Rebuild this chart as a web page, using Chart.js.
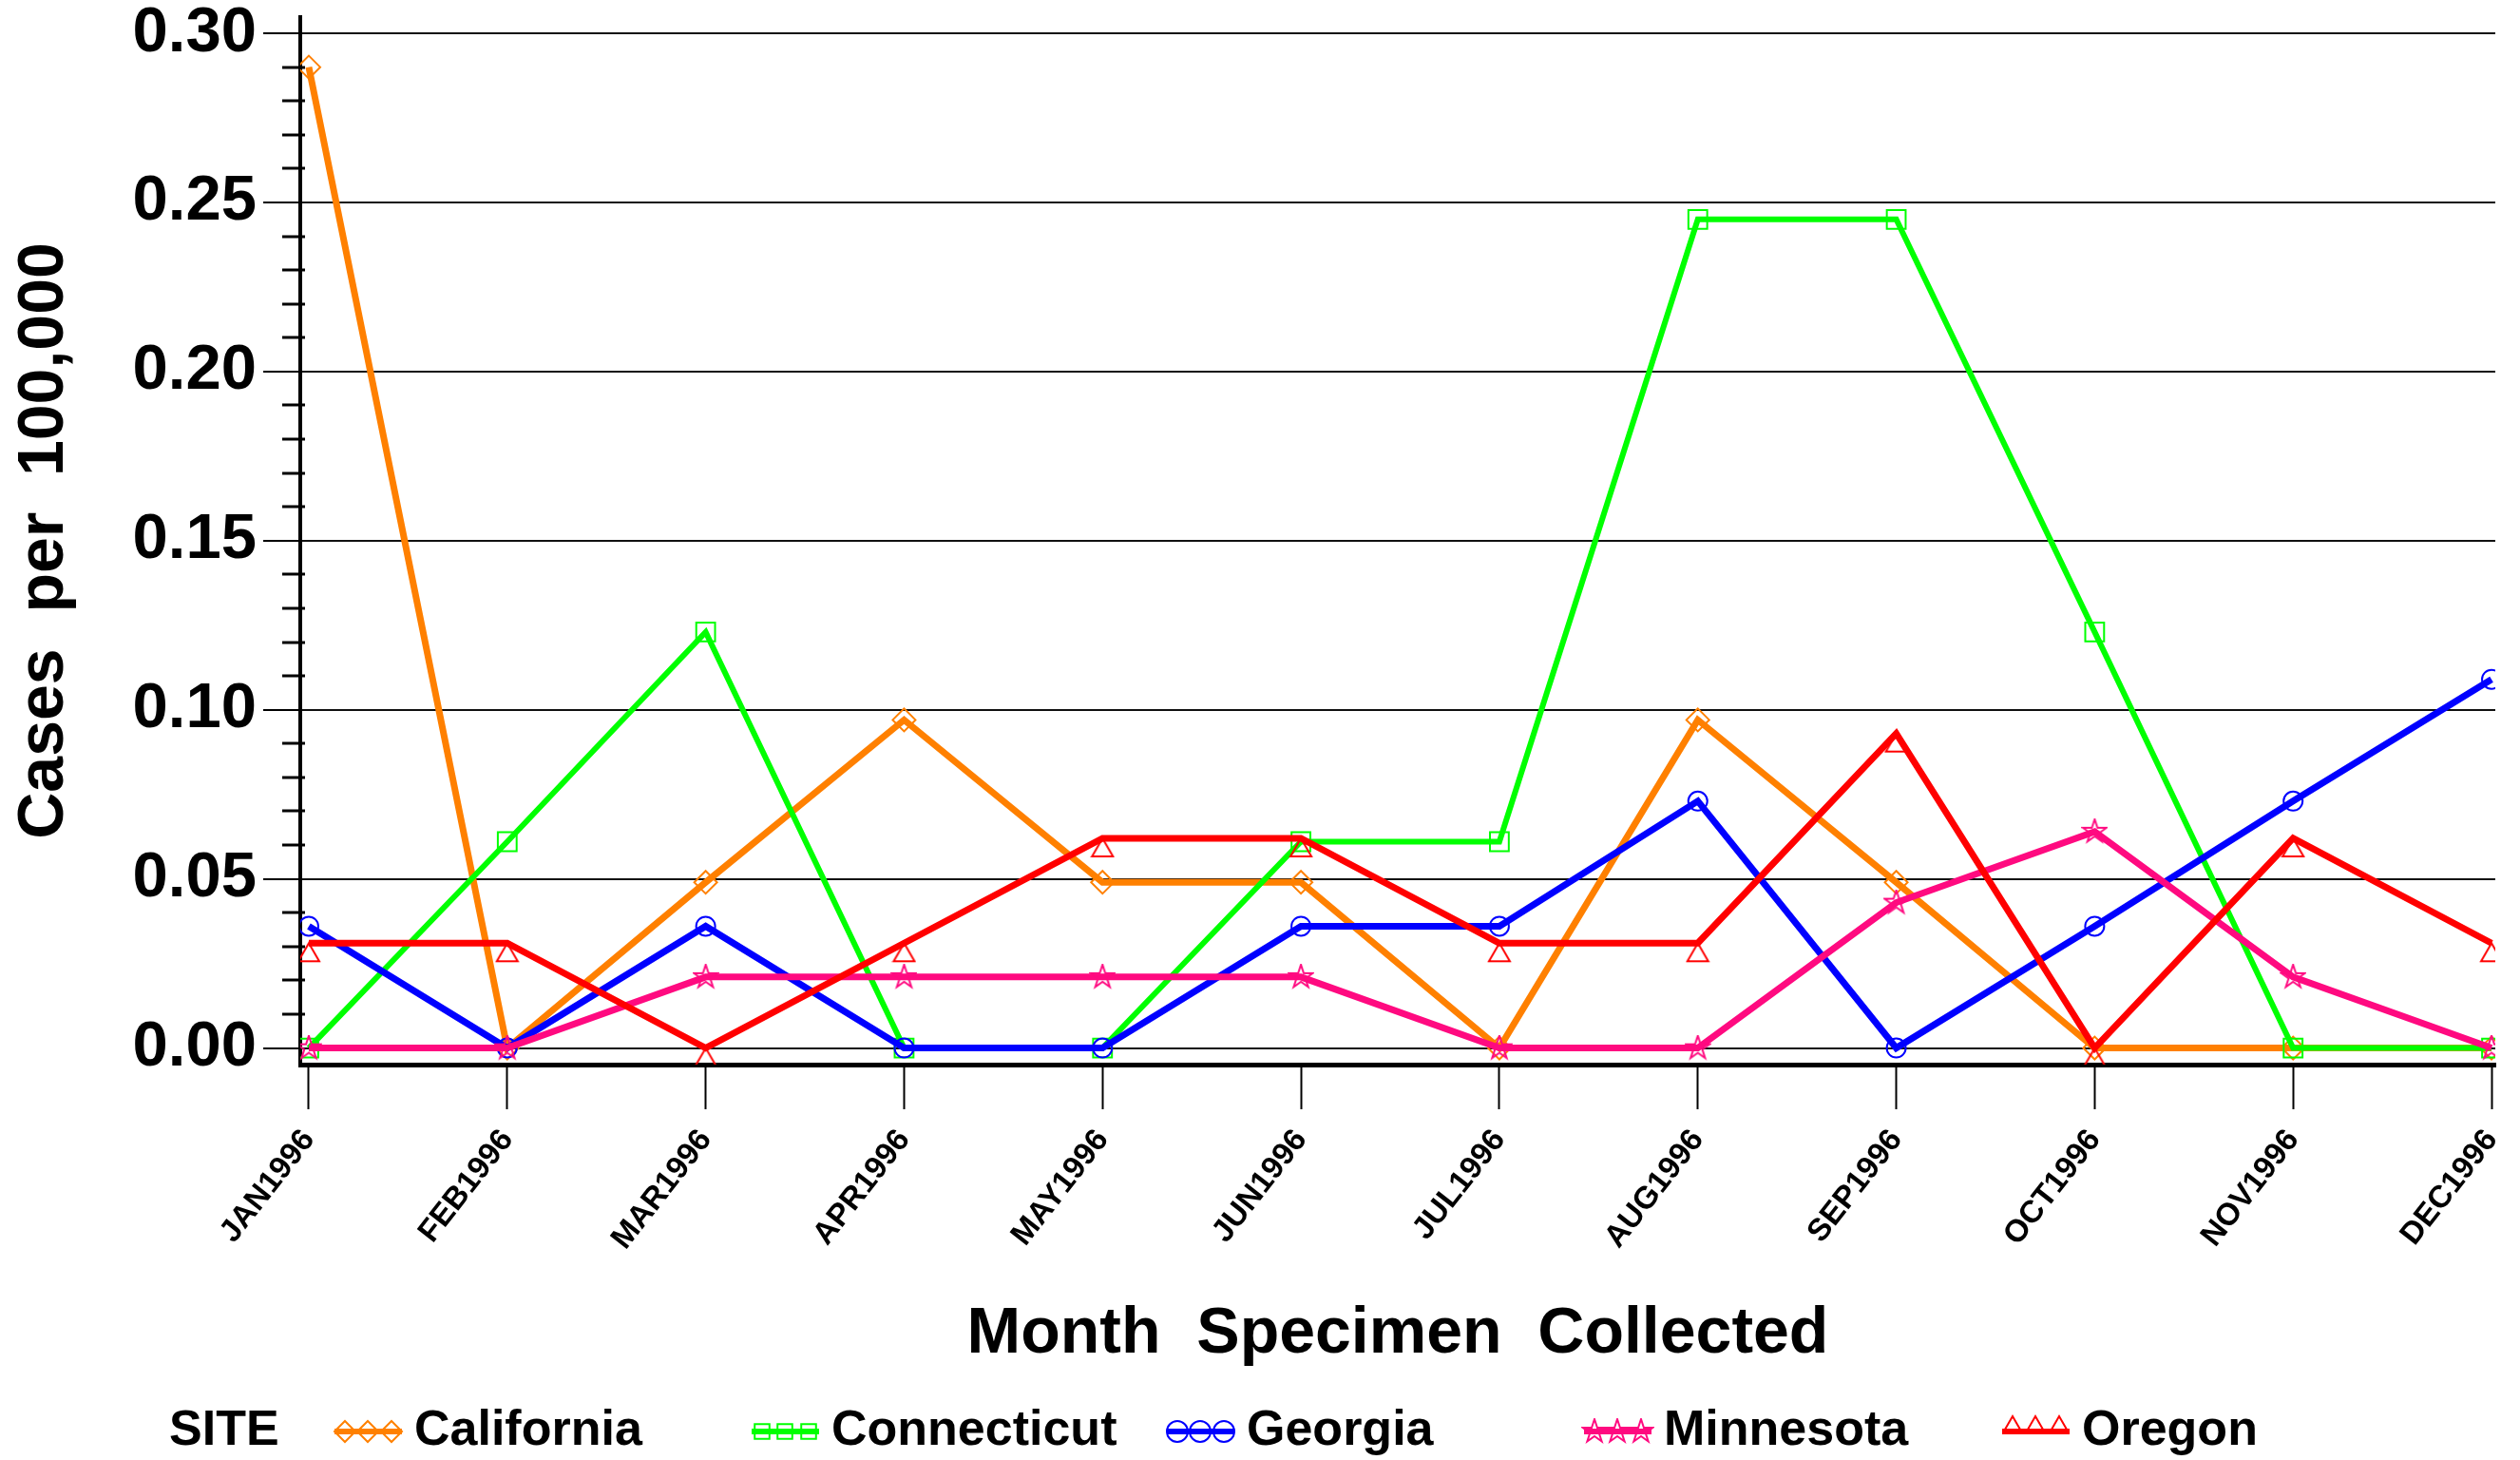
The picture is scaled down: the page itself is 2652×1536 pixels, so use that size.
<!DOCTYPE html>
<html>
<head>
<meta charset="utf-8">
<script src="https://cdn.jsdelivr.net/npm/chart.js@4.4.1/dist/chart.umd.min.js"></script>
<style>
    html, body { margin: 0; padding: 0; background: #fff; }
    canvas { display: block; }
</style>
</head>
<body>
<canvas id="siteChart" width="2652" height="1536"></canvas>
<script>
const months = ['JAN1996', 'FEB1996', 'MAR1996', 'APR1996', 'MAY1996', 'JUN1996',
                'JUL1996', 'AUG1996', 'SEP1996', 'OCT1996', 'NOV1996', 'DEC1996'];
const sites = ['California', 'Connecticut', 'Georgia', 'Minnesota', 'Oregon'];

const california  = [0.290, 0.000, 0.049, 0.097, 0.049, 0.049, 0.000, 0.097, 0.049, 0.000, 0.000, 0.000];
const connecticut = [0.000, 0.061, 0.123, 0.000, 0.000, 0.061, 0.061, 0.245, 0.245, 0.123, 0.000, 0.000];
const georgia     = [0.036, 0.000, 0.036, 0.000, 0.000, 0.036, 0.036, 0.073, 0.000, 0.036, 0.073, 0.109];
const minnesota   = [0.000, 0.000, 0.021, 0.021, 0.021, 0.021, 0.000, 0.000, 0.043, 0.064, 0.021, 0.000];
const oregon      = [0.031, 0.031, 0.000, 0.031, 0.062, 0.062, 0.031, 0.031, 0.093, 0.000, 0.062, 0.031];

const yTicks = [0, 0.05, 0.10, 0.15, 0.20, 0.25, 0.30];
const yTickLabels = ['0.00', '0.05', '0.10', '0.15', '0.20', '0.25', '0.30'];

const colors = ['#FF8000', '#00FF00', '#0000FF', '#FF0A80', '#FF0000'];
const lineWidths = [7, 6, 7, 7, 7];
const legendX = [352, 791, 1228, 1667, 2107];

const FONT = '"Liberation Sans", Arial, sans-serif';

// SAS-like hollow star (5 points) and a triangle hanging under its point
function starMarker(color) {
    const c = document.createElement('canvas');
    c.width = 28; c.height = 28;
    const g = c.getContext('2d');
    g.strokeStyle = color;
    g.lineWidth = 2;
    g.beginPath();
    for (let k = 0; k < 10; k++) {
        const r = k % 2 === 0 ? 13 : 5;
        const a = -Math.PI / 2 + k * Math.PI / 5;
        const px = 14 + r * Math.cos(a), py = 14 + r * Math.sin(a);
        if (k === 0) g.moveTo(px, py); else g.lineTo(px, py);
    }
    g.closePath();
    g.stroke();
    return c;
}

function triangleMarker(color) {
    const c = document.createElement('canvas');
    c.width = 26; c.height = 44;
    const g = c.getContext('2d');
    g.strokeStyle = color;
    g.lineWidth = 2;
    g.beginPath();
    g.moveTo(13, 22);
    g.lineTo(24, 41);
    g.lineTo(2, 41);
    g.closePath();
    g.stroke();
    return c;
}

const star = starMarker(colors[3]);
const markers = ['rectRot', 'rect', 'circle', star, triangleMarker(colors[4])];
const legendMarkers = ['rectRot', 'rect', 'circle', star, 'triangle'];
const markerSize = [12, 14, 10, 12, 12];

function toPoints(values) {
    return values.map((v, i) => ({ x: i, y: v }));
}

const seriesValues = [california, connecticut, georgia, minnesota, oregon];

const datasets = sites.map((name, i) => ({
    label: name,
    data: toPoints(seriesValues[i]),
    borderColor: colors[i],
    borderWidth: lineWidths[i],
    pointStyle: markers[i],
    pointRadius: markerSize[i],
    pointBorderWidth: 2,
    pointBorderColor: colors[i],
    pointBackgroundColor: 'rgba(0,0,0,0)',
    tension: 0,
    order: sites.length - i
}));

// minor ticks on the y axis + the SITE legend at the bottom
const extras = {
    id: 'extras',
    afterDraw(chart) {
        const ctx = chart.ctx;
        const yScale = chart.scales.y;
        const axisX = chart.chartArea.left;
        ctx.save();
        ctx.strokeStyle = '#000';
        ctx.lineWidth = 3;
        for (let k = 1; k < 30; k++) {
            if (k % 5 === 0) continue;
            const py = Math.round(yScale.getPixelForValue(k / 100));
            ctx.beginPath();
            ctx.moveTo(axisX - 19, py);
            ctx.lineTo(axisX + 5, py);
            ctx.stroke();
        }

        const ly = 1506;
        ctx.font = 'bold 52px ' + FONT;
        ctx.textBaseline = 'middle';
        ctx.textAlign = 'left';
        ctx.fillStyle = '#000';
        ctx.fillText('SITE', 178, ly);
        chart.data.datasets.forEach((ds, i) => {
            const x0 = legendX[i];
            ctx.strokeStyle = ds.borderColor;
            ctx.lineWidth = 6;
            ctx.beginPath();
            ctx.moveTo(x0, ly);
            ctx.lineTo(x0 + 71, ly);
            ctx.stroke();
            const style = legendMarkers[i];
            const dy = style === 'triangle' ? -5 : 0;
            [x0 + 11, x0 + 35, x0 + 60].forEach(mx => {
                ctx.strokeStyle = ds.borderColor;
                ctx.fillStyle = 'rgba(0,0,0,0)';
                ctx.lineWidth = 2;
                Chart.helpers.drawPoint(ctx, {
                    pointStyle: style,
                    radius: 11,
                    borderWidth: 2,
                    rotation: 0
                }, mx, ly + dy);
            });
            ctx.fillStyle = '#000';
            ctx.fillText(ds.label, x0 + 84, ly);
        });
        ctx.restore();
    }
};

new Chart(document.getElementById('siteChart'), {
    type: 'line',
    data: { datasets },
    options: {
        responsive: false,
        animation: false,
        devicePixelRatio: 1,
        layout: { padding: { top: 18, left: 0, right: 26, bottom: 80 } },
        plugins: {
            legend: { display: false },
            tooltip: { enabled: false }
        },
        scales: {
            x: {
                type: 'linear',
                min: -0.043,
                max: 11.019,
                afterBuildTicks: scale => {
                    scale.ticks = months.map((m, i) => ({ value: i }));
                },
                afterFit: scale => {
                    scale.height = 336;
                    scale.paddingLeft = 0;
                    scale.paddingRight = 0;
                },
                ticks: {
                    autoSkip: false,
                    minRotation: 52,
                    maxRotation: 52,
                    padding: 14,
                    color: '#000',
                    font: { family: FONT, size: 33, weight: 'bold' },
                    callback: value => months[value]
                },
                grid: {
                    drawOnChartArea: false,
                    drawTicks: true,
                    tickLength: 47,
                    tickWidth: 2,
                    tickColor: '#000'
                },
                border: { display: true, color: '#000', width: 5 },
                title: {
                    display: true,
                    text: 'Month  Specimen  Collected',
                    color: '#000',
                    font: { family: FONT, size: 68, weight: 'bold' },
                    padding: { top: 0, bottom: 11 }
                }
            },
            y: {
                min: -0.0049,
                max: 0.3048,
                afterBuildTicks: scale => {
                    scale.ticks = yTicks.map(v => ({ value: v }));
                },
                afterFit: scale => {
                    scale.width = 316;
                    scale.paddingTop = 0;
                    scale.paddingBottom = 0;
                },
                ticks: {
                    padding: 7,
                    color: '#000',
                    font: { family: FONT, size: 67, weight: 'bold' },
                    callback: (value, index) => yTickLabels[index]
                },
                grid: {
                    color: '#111',
                    lineWidth: 2,
                    drawTicks: true,
                    tickLength: 39,
                    tickColor: '#000'
                },
                border: { display: true, color: '#000', width: 4 },
                title: {
                    display: true,
                    text: 'Cases  per  100,000',
                    color: '#000',
                    font: { family: FONT, size: 68, weight: 'bold' },
                    padding: { top: 6, bottom: 0 }
                }
            }
        }
    },
    plugins: [extras]
});
</script>
</body>
</html>
